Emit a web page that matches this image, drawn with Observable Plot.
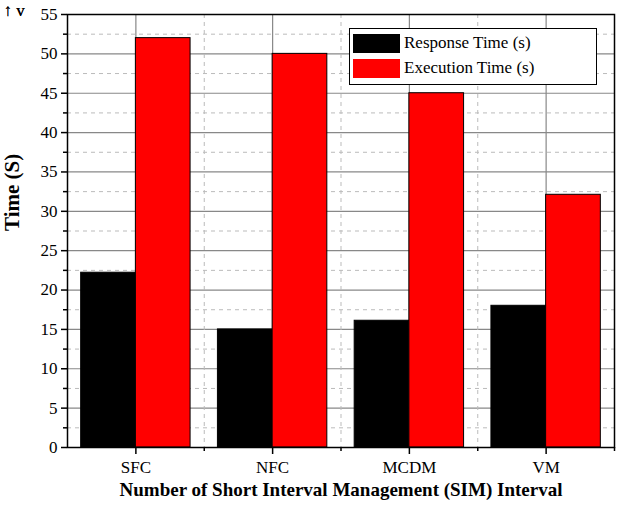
<!DOCTYPE html>
<html><head><meta charset="utf-8">
<script src="https://cdn.jsdelivr.net/npm/d3@7"></script>
<script src="https://cdn.jsdelivr.net/npm/@observablehq/plot@0.6"></script>
<style>
body{margin:0;background:#fff;font-family:"Liberation Serif",serif}
#wrap{position:relative;width:619px;height:512px}
#legend{position:absolute;left:349px;top:28px;width:246px;height:55px;border:1.5px solid #000;background:#fff;font-size:17px}
.row{position:absolute;left:3px;display:flex;align-items:center}
.sw{width:47px;height:19px;margin-right:4px}
</style></head><body>
<div id="wrap"><div id="chart"></div>
<div id="legend">
<div class="row" style="top:4px"><div class="sw" style="background:#000"></div>Response Time (s)</div>
<div class="row" style="top:29px"><div class="sw" style="background:#ff0000"></div>Execution Time (s)</div>
</div></div>
<script>
const categories = ["SFC","NFC","MCDM","VM"];
const responseTime = [22.2, 15, 16.1, 18];
const executionTime = [52, 50, 45, 32.1];
const seriesNames = ["Response Time (s)","Execution Time (s)"];
const colors = ["#000000","#ff0000"];

const data = [];
categories.forEach((c,i)=>{
  data.push({i, cat:c, s:0, v:responseTime[i]});
  data.push({i, cat:c, s:1, v:executionTime[i]});
});
const major = d3.range(0,56,5), minor = d3.range(2.5,55,5);
const xMajor = d3.range(categories.length), xMinor = d3.range(categories.length).map(i=>i+0.5);
const chart = Plot.plot({
  width:619, height:512,
  marginLeft:67, marginRight:5, marginTop:14, marginBottom:65,
  style:{fontFamily:"Liberation Serif, serif", fontSize:"17px", color:"#000"},
  x:{type:"linear", domain:[-0.5,3.5], axis:null},
  y:{domain:[0,55], axis:null},
  marks:[
    Plot.ruleY(major,{stroke:"#888", strokeWidth:1.2}),
    Plot.ruleY(minor,{stroke:"#bbb", strokeDasharray:"4,4"}),
    Plot.ruleX(xMajor,{stroke:"#888", strokeWidth:1.2}),
    Plot.ruleX(xMinor,{stroke:"#bbb", strokeDasharray:"4,4"}),
    Plot.rectY(data,{x1:d=>d.i-0.4+d.s*0.4, x2:d=>d.i+d.s*0.4, y1:0, y2:"v", fill:d=>colors[d.s], stroke:"#000", strokeWidth:1}),
    Plot.frame({stroke:"#000", strokeWidth:1.5}),
    Plot.axisY(major,{tickSize:6, tickPadding:4, fontSize:17, strokeWidth:1.5}),
    Plot.axisY(minor,{tickSize:4, tickFormat:()=>"", strokeWidth:1.5}),
    Plot.axisX(xMajor,{tickSize:7, tickPadding:6, fontSize:17, tickFormat:i=>categories[i], strokeWidth:1.5}),
    Plot.axisX(xMinor,{tickSize:4, tickFormat:()=>"", strokeWidth:1.5}),
    Plot.text(["Time (S)"],{frameAnchor:"left", dx:-55, rotate:-90, fontSize:21, fontWeight:"bold"}),
    Plot.text(["Number of Short Interval Management (SIM) Interval"],{frameAnchor:"bottom", dy:48, fontSize:19, fontWeight:"bold"})
  ]
});
document.getElementById("chart").append(chart);
</script></body></html>
